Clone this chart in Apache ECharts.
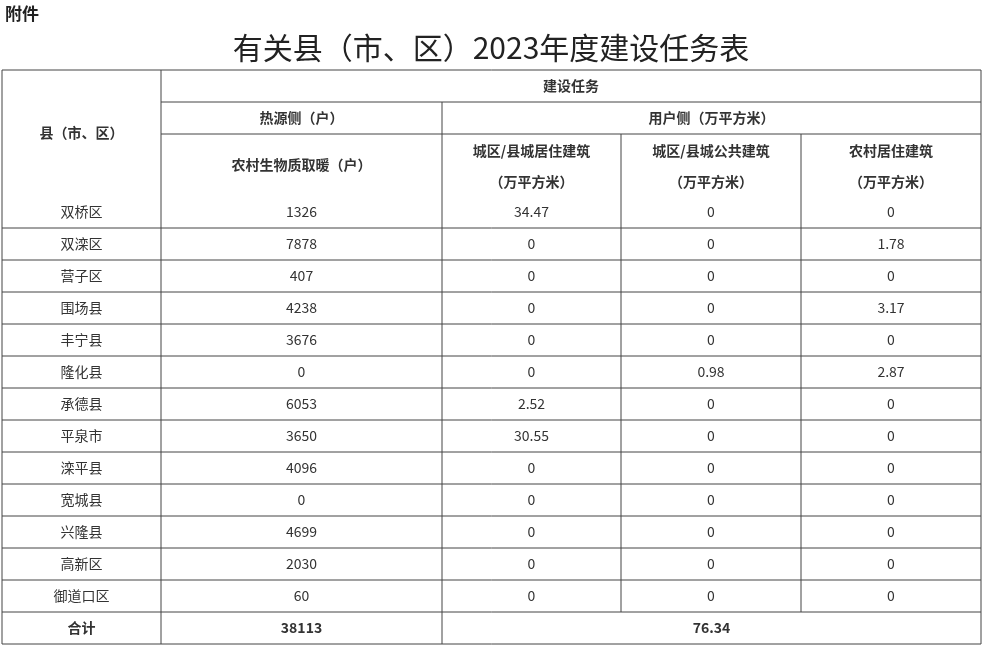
<!DOCTYPE html>
<html><head><meta charset="utf-8">
<script src="https://cdn.jsdelivr.net/npm/echarts@6/dist/echarts.min.js"></script>
<style>html,body{margin:0;background:#fff}#main{width:984px;height:648px}</style>
</head><body><div id="main"></div>
<script>
var districts = ["双桥区","双滦区","营子区","围场县","丰宁县","隆化县","承德县","平泉市","滦平县","宽城县","兴隆县","高新区","御道口区"];
var heatHouseholds = ["1326","7878","407","4238","3676","0","6053","3650","4096","0","4699","2030","60"];
var urbanResidential = ["34.47","0","0","0","0","0","2.52","30.55","0","0","0","0","0"];
var urbanPublic = ["0","0","0","0","0","0.98","0","0","0","0","0","0","0"];
var ruralResidential = ["0","1.78","0","3.17","0","2.87","0","0","0","0","0","0","0"];
var totals = ["38113","76.34"];

var myChart = echarts.init(document.getElementById("main"));

var cols = [2, 161, 442, 621, 801, 981];
var top0 = 70, rowH = 32, bodyTop = 196;
var font = '"Noto Sans CJK SC", sans-serif';
var els = [];

function line(x1, y1, x2, y2) {
  els.push({type: "line", shape: {x1: x1, y1: y1, x2: x2, y2: y2}, style: {stroke: "#444", lineWidth: 1}});
}
function text(t, x, y, size, bold, color) {
  els.push({type: "text", x: x, y: y, style: {text: t, x: 0, y: 0, align: "center", verticalAlign: "middle",
    font: (bold ? "bold " : "") + size + "px " + font, fill: color || "#333"}});
}
function mid(a, b) { return (cols[a] + cols[b]) / 2; }

text("附件", 22, 14, 17, true, "#222");
text("有关县（市、区）2023年度建设任务表", 491, 48, 30, false, "#222");

var nRows = districts.length;
var bottom = bodyTop + rowH * (nRows + 1);
// outer frame
line(cols[0], top0, cols[5], top0);
line(cols[0], bottom, cols[5], bottom);
line(cols[0], top0, cols[0], bottom);
line(cols[5], top0, cols[5], bottom);
line(cols[1], top0, cols[1], bottom);
// header lines
line(cols[1], 102, cols[5], 102);
line(cols[1], 134, cols[5], 134);
line(cols[2], 102, cols[2], bottom);
line(cols[3], 134, cols[3], bottom - rowH);
line(cols[4], 134, cols[4], bottom - rowH);
for (var r = 1; r <= nRows; r++) line(cols[0], bodyTop + rowH * r, cols[5], bodyTop + rowH * r);

text("县（市、区）", mid(0, 1), 133, 14, true);
text("建设任务", (cols[1] + cols[5]) / 2, 86, 14, true);
text("热源侧（户）", mid(1, 2), 118, 14, true);
text("用户侧（万平方米）", (cols[2] + cols[5]) / 2, 118, 14, true);
text("农村生物质取暖（户）", mid(1, 2), 165, 14, true);
text("城区/县城居住建筑", mid(2, 3), 151, 14, true);
text("（万平方米）", mid(2, 3), 182, 14, true);
text("城区/县城公共建筑", mid(3, 4), 151, 14, true);
text("（万平方米）", mid(3, 4), 182, 14, true);
text("农村居住建筑", mid(4, 5), 151, 14, true);
text("（万平方米）", mid(4, 5), 182, 14, true);

for (var i = 0; i < nRows; i++) {
  var y = bodyTop + rowH * i + 16;
  text(districts[i], mid(0, 1), y, 14);
  text(heatHouseholds[i], mid(1, 2), y, 14);
  text(urbanResidential[i], mid(2, 3), y, 14);
  text(urbanPublic[i], mid(3, 4), y, 14);
  text(ruralResidential[i], mid(4, 5), y, 14);
}
var ty = bodyTop + rowH * nRows + 16;
text("合计", mid(0, 1), ty, 14, true);
text(totals[0], mid(1, 2), ty, 14, true);
text(totals[1], (cols[2] + cols[5]) / 2, ty, 14, true);

myChart.setOption({animation: false, graphic: {elements: els}});
</script></body></html>
